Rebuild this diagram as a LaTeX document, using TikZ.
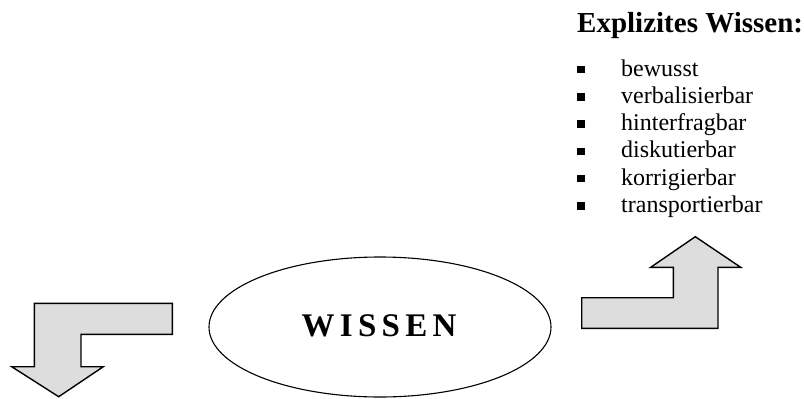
\documentclass[tikz,border=0pt]{standalone}
\usepackage{fontspec}
\setmainfont{Liberation Serif}
\newfontfamily\spacedserif[LetterSpace=16]{Liberation Serif}
\usetikzlibrary{shapes.geometric}
\definecolor{arrowfill}{RGB}{221,221,221}
\tikzset{
  bentarrow/.style={draw=black, fill=arrowfill, line width=1.4pt, line join=miter},
  core/.style={ellipse, draw=black, line width=1.1pt, minimum width=342pt, minimum height=140pt, inner sep=0pt},
  heading/.style={anchor=base west, inner sep=0pt, font=\fontsize{29pt}{33pt}\selectfont\bfseries},
  itemtext/.style={anchor=base west, inner sep=0pt, font=\fontsize{24pt}{28pt}\selectfont},
  bulletbox/.style={fill=black, draw=none, minimum width=7.5pt, minimum height=7.5pt, inner sep=0pt}
}
\begin{document}
\begin{tikzpicture}[x=1pt, y=-1pt]
  \useasboundingbox (0,0) rectangle (804,399);

  % central concept
  \node[core] (wissen) at (380,327) {};
  \node[anchor=base, inner sep=0pt, font=\fontsize{33pt}{37pt}\selectfont\spacedserif\bfseries] (wissenlabel) at (379,336) {WISSEN};

  % heading and list of properties
  \node[heading] (head) at (577,32) {Explizites Wissen:};
  \foreach \txt [count=\i from 0] in {bewusst, verbalisierbar, hinterfragbar, diskutierbar, korrigierbar, transportierbar} {
    \node[bulletbox] (b\i) at (581,76+27.3*\i-6.5) {};
    \node[itemtext] (t\i) at (621,76+27.3*\i) {\txt};
  }

  % bent arrow pointing up (right side)
  \draw[bentarrow] (581.7,328.3) -- (581.7,297.7) -- (673.3,297.7) -- (673.3,267.3)
    -- (650.7,267.3) -- (695.3,236.7) -- (740.7,267.3) -- (718,267.3) -- (718,328.3) -- cycle;

  % bent arrow pointing down (left side)
  \draw[bentarrow] (172.3,303.3) -- (172.3,334.3) -- (81,334.3) -- (81,366.7)
    -- (103.3,366.7) -- (58.7,396.7) -- (11.7,366.7) -- (34.3,366.7) -- (34.3,303.3) -- cycle;
\end{tikzpicture}
\end{document}
